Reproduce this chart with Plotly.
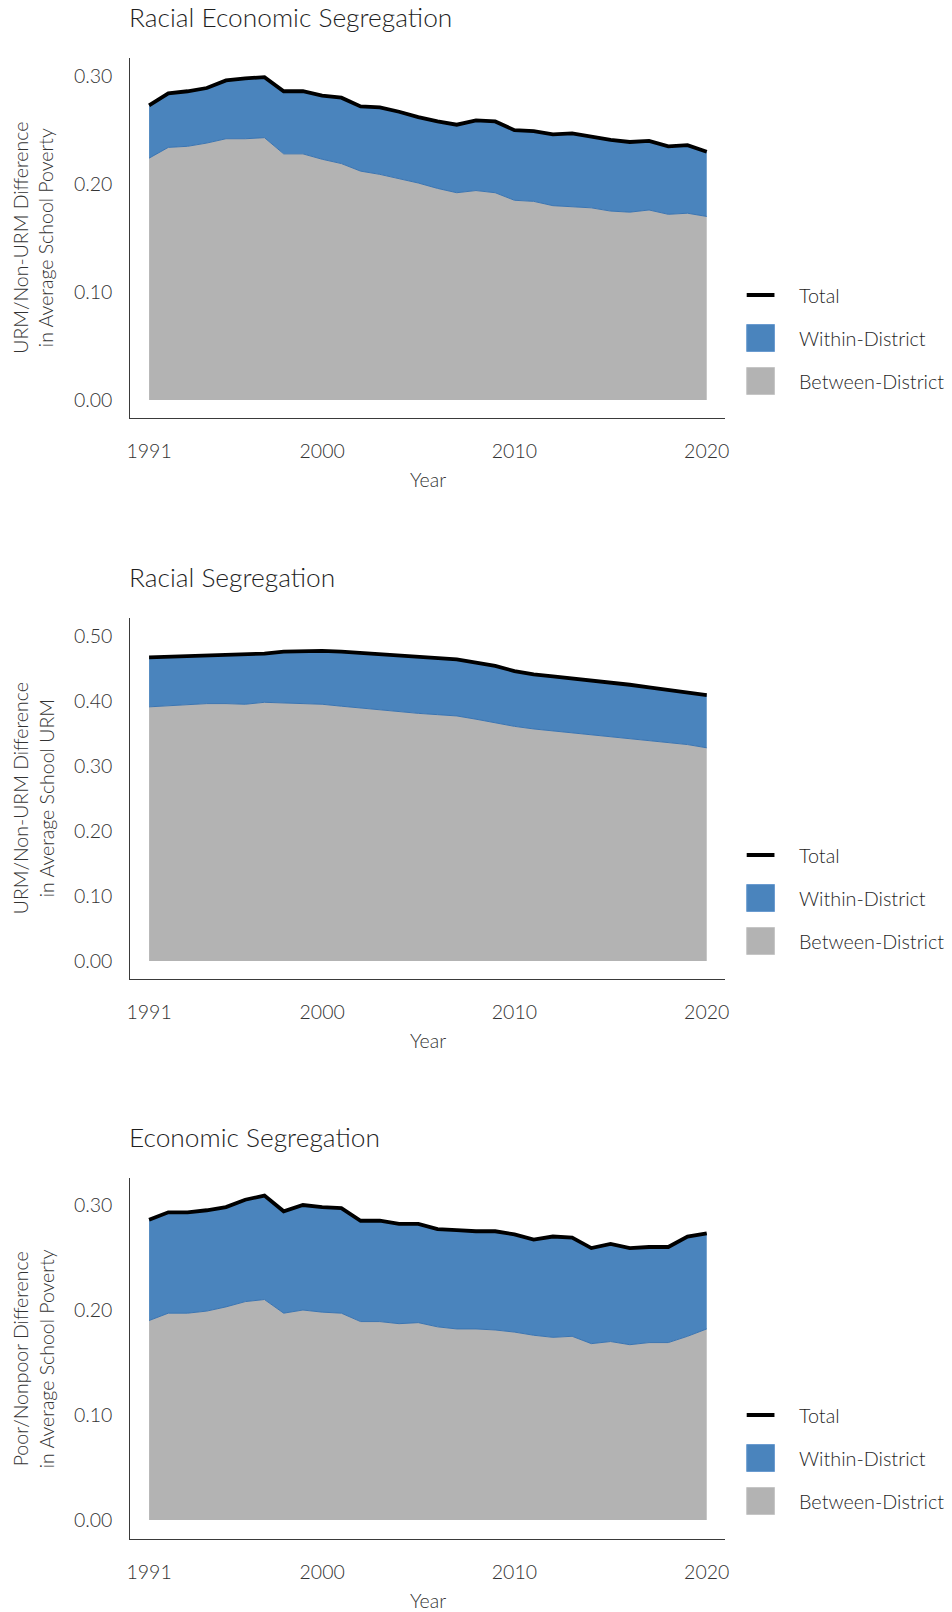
import plotly.graph_objects as go

# Years covered by every panel
years = list(range(1991, 2021))

# Racial economic segregation (URM/non-URM difference in school poverty)
rac_econ_total = [0.273, 0.284, 0.286, 0.289, 0.296, 0.298, 0.299, 0.286, 0.286, 0.282,
                  0.280, 0.272, 0.271, 0.267, 0.262, 0.258, 0.255, 0.259, 0.258, 0.250,
                  0.249, 0.246, 0.247, 0.244, 0.241, 0.239, 0.240, 0.235, 0.236, 0.230]
rac_econ_between = [0.224, 0.234, 0.235, 0.238, 0.242, 0.242, 0.243, 0.228, 0.228, 0.223,
                    0.219, 0.212, 0.209, 0.205, 0.201, 0.196, 0.192, 0.194, 0.192, 0.185,
                    0.184, 0.180, 0.179, 0.178, 0.175, 0.174, 0.176, 0.172, 0.173, 0.170]

# Racial segregation (URM/non-URM difference in school URM share)
racial_total = [0.467, 0.468, 0.469, 0.470, 0.471, 0.471, 0.473, 0.476, 0.477, 0.477,
                0.476, 0.474, 0.472, 0.470, 0.468, 0.466, 0.464, 0.459, 0.454, 0.446,
                0.441, 0.438, 0.435, 0.432, 0.429, 0.425, 0.421, 0.417, 0.413, 0.409]
racial_between = [0.391, 0.393, 0.395, 0.396, 0.396, 0.395, 0.398, 0.397, 0.396, 0.395,
                  0.392, 0.389, 0.386, 0.384, 0.381, 0.379, 0.377, 0.372, 0.366, 0.361,
                  0.357, 0.354, 0.351, 0.349, 0.346, 0.343, 0.339, 0.336, 0.333, 0.328]

# Economic segregation (poor/nonpoor difference in school poverty)
econ_total = [0.286, 0.293, 0.293, 0.295, 0.298, 0.305, 0.309, 0.294, 0.300, 0.298,
              0.297, 0.285, 0.285, 0.282, 0.282, 0.277, 0.276, 0.275, 0.275, 0.272,
              0.267, 0.270, 0.269, 0.259, 0.263, 0.259, 0.260, 0.260, 0.270, 0.273]
econ_between = [0.190, 0.197, 0.197, 0.199, 0.203, 0.208, 0.210, 0.197, 0.200, 0.198,
                0.197, 0.189, 0.189, 0.187, 0.188, 0.184, 0.182, 0.182, 0.181, 0.179,
                0.176, 0.174, 0.175, 0.168, 0.170, 0.167, 0.169, 0.169, 0.175, 0.182]

panel_titles = ["Racial Economic Segregation", "Racial Segregation", "Economic Segregation"]
y_titles = ["URM/Non-URM Difference<br>in Average School Poverty",
            "URM/Non-URM Difference<br>in Average School URM",
            "Poor/Nonpoor Difference<br>in Average School Poverty"]
y_ticks = [[0, 0.1, 0.2, 0.3], [0, 0.1, 0.2, 0.3, 0.4, 0.5], [0, 0.1, 0.2, 0.3]]
y_ranges = [[-0.0167, 0.3168], [-0.0277, 0.5277], [-0.018, 0.3257]]
x_ticks = [1991, 2000, 2010, 2020]
legend_labels = ["Total", "Within-District", "Between-District"]

W, H = 952, 1612
FONT = "Lato"
BLUE = "#4a84bd"
BLUE_EDGE = "#3b74b0"
GRAY = "#b3b3b3"

# Pixel layout of each panel: (top, bottom) of plotting area
panel_px = [(58, 418), (618, 979), (1178, 1539)]
plot_left, plot_right = 127.5, 727.5


def px_x(v):
    return v / W


def px_y(v):
    return 1 - v / H


def font(size, color="#333333"):
    return dict(family=FONT, size=size, color=color, weight=300)


series = [(rac_econ_total, rac_econ_between),
          (racial_total, racial_between),
          (econ_total, econ_between)]

fig = go.Figure()
annotations = []
shapes = []

for i, (total, between) in enumerate(series):
    n = i + 1
    xa = "x" if n == 1 else f"x{n}"
    ya = "y" if n == 1 else f"y{n}"
    # Between-district area from zero
    fig.add_trace(go.Scatter(x=years, y=between, mode="lines", fill="tozeroy",
                             fillcolor=GRAY, line=dict(color=BLUE_EDGE, width=1),
                             xaxis=xa, yaxis=ya, showlegend=False, hoverinfo="skip"))
    # Within-district area stacked on top of between-district
    fig.add_trace(go.Scatter(x=years, y=total, mode="lines", fill="tonexty",
                             fillcolor=BLUE, line=dict(color=BLUE, width=0.5),
                             xaxis=xa, yaxis=ya, showlegend=False, hoverinfo="skip"))
    # Total line
    fig.add_trace(go.Scatter(x=years, y=total, mode="lines",
                             line=dict(color="black", width=3.8),
                             xaxis=xa, yaxis=ya, showlegend=False, name="Total"))

    top, bot = panel_px[i]
    axis_common = dict(showgrid=False, zeroline=False, showline=True,
                       linecolor="#3a3a3a", linewidth=1.3, ticks="outside",
                       tickcolor="rgba(0,0,0,0)", tickfont=font(19.5))
    fig.layout[f"xaxis{'' if n == 1 else n}"] = dict(
        domain=[px_x(plot_left), px_x(plot_right)], anchor=ya,
        range=[1990.03, 2020.97], tickvals=x_ticks, ticklen=15, **axis_common)
    fig.layout[f"yaxis{'' if n == 1 else n}"] = dict(
        domain=[px_y(bot), px_y(top)], anchor=xa, range=y_ranges[i],
        tickvals=y_ticks[i], tickformat=".2f", ticklen=13, **axis_common)

    # Panel title
    annotations.append(dict(text=panel_titles[i], xref="paper", yref="paper",
                            x=px_x(124), y=px_y(top - 41), xanchor="left", yanchor="middle",
                            showarrow=False, font=font(26.3, "#1f1f1f")))
    # Y axis title
    annotations.append(dict(text=y_titles[i], xref="paper", yref="paper",
                            x=px_x(29), y=px_y((top + bot) / 2), xanchor="center",
                            yanchor="middle", textangle=-90, showarrow=False,
                            font=font(19.5)))
    # X axis title
    annotations.append(dict(text="Year", xref="paper", yref="paper",
                            x=px_x(427.5), y=px_y(bot + 61), xanchor="center",
                            yanchor="middle", showarrow=False, font=font(19.5)))

    # Legend for the panel
    rows = [top + 237, top + 280, top + 323]
    x0, x1 = 749, 777
    shapes.append(dict(type="line", xref="paper", yref="paper",
                       x0=px_x(x0), x1=px_x(x1), y0=px_y(rows[0]), y1=px_y(rows[0]),
                       line=dict(color="black", width=4)))
    shapes.append(dict(type="rect", xref="paper", yref="paper",
                       x0=px_x(x0), x1=px_x(x1), y0=px_y(rows[1] - 13.5), y1=px_y(rows[1] + 13.5),
                       fillcolor=BLUE, line=dict(color="#6a9bd0", width=1)))
    shapes.append(dict(type="rect", xref="paper", yref="paper",
                       x0=px_x(x0), x1=px_x(x1), y0=px_y(rows[2] - 13.5), y1=px_y(rows[2] + 13.5),
                       fillcolor=GRAY, line=dict(color="#c6c6c6", width=1)))
    for label, ry in zip(legend_labels, rows):
        annotations.append(dict(text=label, xref="paper", yref="paper",
                                x=px_x(800), y=px_y(ry), xanchor="left", yanchor="middle",
                                showarrow=False, font=font(19.8, "#1f1f1f")))

fig.update_layout(width=W, height=H, margin=dict(l=0, r=0, t=0, b=0),
                  paper_bgcolor="white", plot_bgcolor="white",
                  annotations=annotations, shapes=shapes, showlegend=False)

fig.write_html("out.html")
